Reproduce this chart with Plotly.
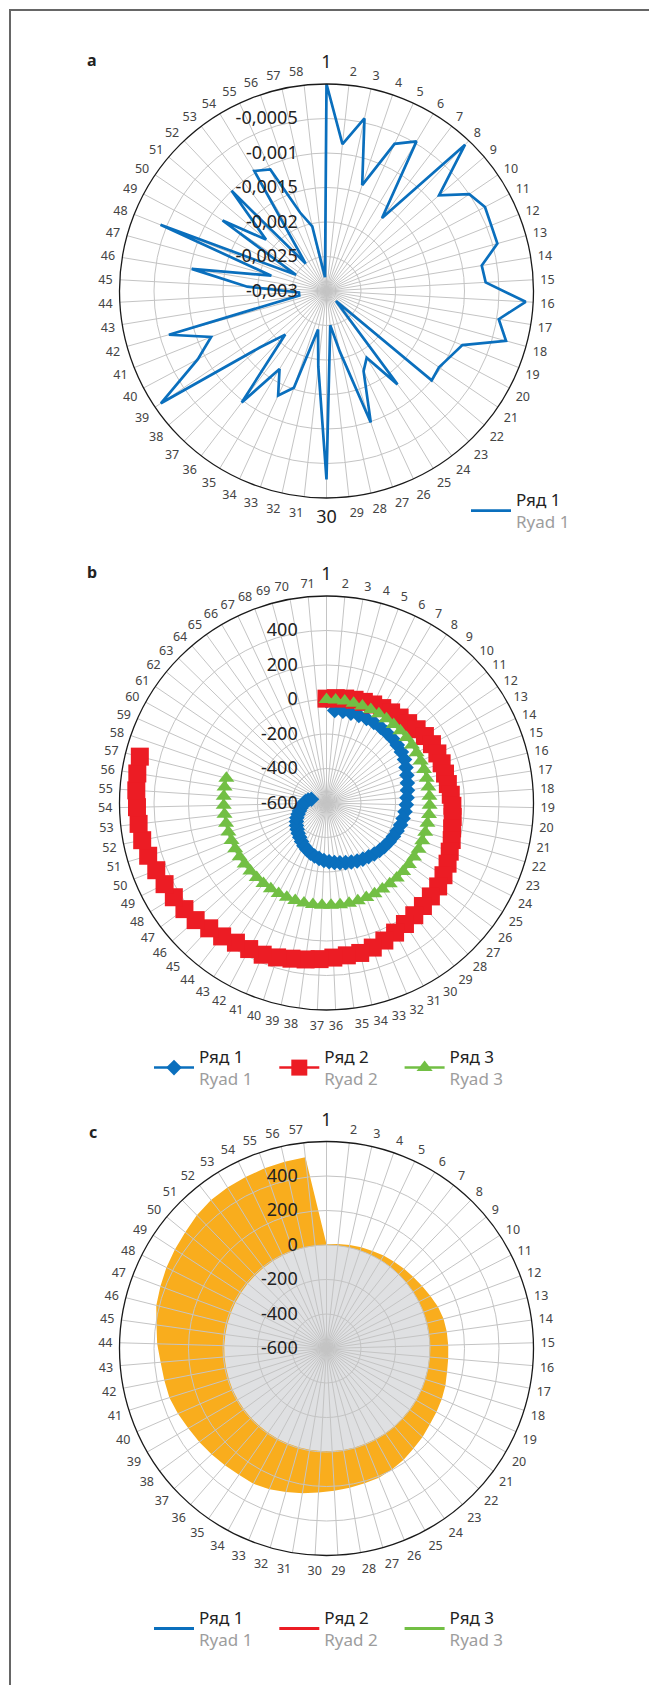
import plotly.graph_objects as go

W, H = 649, 1685
FONT = "Noto Sans"
GRID = "#c4c4c4"

# ---------------- data ----------------
# Chart a: 58 categories, one series (Ряд 1)
cats_a = [str(i) for i in range(1, 59)]
ryad1_a = [0, -0.00086, -0.00044, -0.00138, -0.00065, -0.00047, -0.00167, -0.00008, -0.00086, -0.0005,
           -0.0004, -0.00043, -0.00043, -0.00072, -0.00069, -0.00011, -0.00047, -0.0003, -0.00088, -0.00097,
           -0.00103, -0.001, -0.0028, -0.0013, -0.00187, -0.00172, -0.00099, -0.0021, -0.0025, -0.00027,
           -0.0019, -0.00243, -0.00152, -0.00133, -0.00168, -0.00097, -0.00213, -0.00174, -0.0001, -0.00089,
           -0.0012, -0.00063, -0.0026, -0.0026, -0.00185, -0.00102, -0.00217, -0.00041, -0.0025, -0.00118,
           -0.00185, -0.001, -0.0025, -0.00097, -0.00106, -0.0018, -0.00204, -0.0028]
ticks_a = [-0.003, -0.0025, -0.002, -0.0015, -0.001, -0.0005]
ticklabels_a = ["-0,003", "-0,0025", "-0,002", "-0,0015", "-0,001", "-0,0005"]

# Charts b and c: 57 values per series
cats_b = [str(i) for i in range(1, 72)]
cats_c = [str(i) for i in range(1, 58)]
ryad1 = [-8, -61, -60, -60, -59, -58, -58, -60, -63, -65,
         -70, -75, -82, -95, -107, -117, -125, -132, -137, -142,
         -147, -152, -160, -166, -173, -180, -187, -195, -204, -212,
         -220, -229, -237, -245, -252, -259, -266, -276, -285, -295,
         -307, -320, -334, -348, -360, -372, -383, -395, -408, -423,
         -436, -447, -457, -467, -477, -492, -510]
ryad2 = [5, 10, 15, 20, 25, 32, 38, 45, 52, 62,
         75, 90, 100, 104, 106, 108, 112, 122, 130, 136,
         143, 157, 168, 185, 197, 208, 212, 218, 226, 236,
         250, 265, 280, 291, 291, 297, 306, 315, 325, 340,
         354, 358, 365, 382, 395, 418, 428, 440, 450, 461,
         478, 490, 496, 499, 505, 510, 515]
ryad3 = [0, 0, 0, 0, 0, 0, 0, -1, -1, -1,
         -1, -1, -2, -2, -2, -2, -2, -2, -2, -2,
         -3, -3, -3, -3, -4, -4, -4, -4, -5, -5,
         -5, -5, -5, -5, -5, -6, -6, -6, -6, -6,
         -7, -7, -7, -7, -8, -8, -8, -8, -8, -8,
         -7, -6, -5, -4, -3, -2, -2]
ticks_bc = [-600, -400, -200, 0, 200, 400]
ticklabels_bc = ["-600", "-400", "-200", "0", "200", "400"]

series_names = ["Ряд 1", "Ряд 2", "Ряд 3"]
series_latin = ["Ryad 1", "Ryad 2", "Ryad 3"]

BLUE, RED, GREEN = "#0a6fbd", "#ec1c24", "#72bf44"
ORANGE, LIGHTGRAY = "#f9ad1d", "#dfe0e2"


def legend_label(name, latin):
    return f"{name}<br><span style='color:#9d9d9d'>{latin}</span>"


def ang_labels(cats, big_top, big_bottom=()):
    out = []
    for c in cats:
        if c in big_top:
            out.append(f"<span style='font-size:18px;fill:#222;baseline-shift:6px'>{c}</span>")
        elif c in big_bottom:
            out.append(f"<span style='font-size:18px;fill:#222;baseline-shift:-5px'>{c}</span>")
        else:
            out.append(c)
    return out


# ---------------- geometry (pixels) ----------------
R = 207
CX = 326.5
centers_y = {"a": 291, "b": 803, "c": 1348.5}


def dom(cy):
    return dict(x=[(CX - R) / W, (CX + R) / W], y=[(H - cy - R) / H, (H - cy + R) / H])


def angular(cats, big_top, big_bottom=(), show=True):
    return dict(type="category", categoryorder="array", categoryarray=cats, period=len(cats),
                direction="clockwise", rotation=90,
                showline=show, linecolor="#1a1a1a", linewidth=1.3,
                showgrid=show, gridcolor=GRID, gridwidth=1,
                ticks="outside" if show else "", ticklen=4, tickcolor="rgba(0,0,0,0)",
                showticklabels=show, tickmode="array", tickvals=cats,
                ticktext=ang_labels(cats, big_top, big_bottom),
                tickfont=dict(family=FONT, size=12.5, color="#444444"),
                layer="above traces")


def radial(rng, tv, tt, show=True):
    return dict(range=rng, tickmode="array", tickvals=tv, ticktext=tt, angle=90,
                side="counterclockwise", tickangle=90, showline=False,
                showgrid=show, gridcolor=GRID, gridwidth=1,
                showticklabels=show, ticks="outside" if show else "", ticklen=22,
                tickcolor="rgba(0,0,0,0)",
                tickfont=dict(family=FONT, size=18, color="#222222"),
                layer="above traces")


fig = go.Figure()

# ---- chart a ----
fig.add_trace(go.Scatterpolar(
    r=ryad1_a + ryad1_a[:1], theta=cats_a + cats_a[:1], mode="lines",
    line=dict(color=BLUE, width=2.7), name=legend_label(series_names[0], series_latin[0]),
    subplot="polar", legend="legend"))

# ---- chart b ----
fig.add_trace(go.Scatterpolar(r=[None] * len(cats_b), theta=cats_b, mode="lines",
                              showlegend=False, hoverinfo="skip", subplot="polar2"))
symbols = ["diamond", "square", "triangle-up"]
sizes = [12, 18, 14]
for vals, col, sym, sz, nm, lt in zip([ryad1, ryad2, ryad3], [BLUE, RED, GREEN], symbols, sizes,
                                      series_names, series_latin):
    fig.add_trace(go.Scatterpolar(
        r=vals, theta=cats_b[:len(vals)], mode="lines+markers",
        line=dict(color=col, width=2.5),
        marker=dict(symbol=sym, size=sz, color=col, line=dict(width=0)),
        name=legend_label(nm, lt), subplot="polar2", legend="legend2"))

# ---- chart c ----
fig.add_trace(go.Scatterpolar(r=ryad2, theta=cats_c, mode="lines", fill="toself",
                              fillcolor=ORANGE, line=dict(width=0, color=ORANGE),
                              showlegend=False, hoverinfo="skip", subplot="polar3"))
fig.add_trace(go.Scatterpolar(r=ryad3, theta=cats_c, mode="lines", fill="toself",
                              fillcolor=LIGHTGRAY, line=dict(width=0, color=LIGHTGRAY),
                              showlegend=False, hoverinfo="skip", subplot="polar3"))
for col, nm, lt in zip([BLUE, RED, GREEN], series_names, series_latin):
    fig.add_trace(go.Scatterpolar(r=[None], theta=[cats_c[0]], mode="lines",
                                  line=dict(color=col, width=3), name=legend_label(nm, lt),
                                  subplot="polar3", legend="legend3"))
# overlay subplot carrying the grid above the filled areas
fig.add_trace(go.Scatterpolar(r=[None] * len(cats_c), theta=cats_c, mode="lines",
                              showlegend=False, hoverinfo="skip", subplot="polar4"))

legend_common = dict(xanchor="left", yanchor="top", bgcolor="rgba(0,0,0,0)", itemwidth=40,
                     font=dict(family=FONT, size=17, color="#222"))

fig.update_layout(
    width=W, height=H, margin=dict(l=0, r=0, t=0, b=0),
    paper_bgcolor="white", font=dict(family=FONT, color="#222"),
    polar=dict(domain=dom(centers_y["a"]), bgcolor="white",
               angularaxis=angular(cats_a, {"1"}, {"30"}),
               radialaxis=radial([-0.003, 0], ticks_a, ticklabels_a)),
    polar2=dict(domain=dom(centers_y["b"]), bgcolor="white",
                angularaxis=angular(cats_b, {"1"}),
                radialaxis=radial([-600, 600], ticks_bc, ticklabels_bc)),
    polar3=dict(domain=dom(centers_y["c"]), bgcolor="white",
                angularaxis=angular(cats_c, {"1"}, show=False),
                radialaxis=radial([-600, 600], ticks_bc, ticklabels_bc, show=False)),
    polar4=dict(domain=dom(centers_y["c"]), bgcolor="rgba(0,0,0,0)",
                angularaxis=angular(cats_c, {"1"}),
                radialaxis=radial([-600, 600], ticks_bc, ticklabels_bc)),
    legend=dict(x=466 / W, y=1 - 482 / H, **legend_common),
    legend2=dict(orientation="h", x=149 / W, y=1 - 1039 / H, entrywidth=70.3, **legend_common),
    legend3=dict(orientation="h", x=149 / W, y=1 - 1600 / H, entrywidth=70.3, **legend_common),
    showlegend=True,
    shapes=[dict(type="rect", xref="paper", yref="paper", x0=10 / W, x1=1.05,
                 y0=-0.05, y1=1 - 10 / H, line=dict(color="#666666", width=2))],
    annotations=[
        dict(text="<b>a</b>", x=92 / W, y=1 - 60 / H),
        dict(text="<b>b</b>", x=92 / W, y=1 - 572 / H),
        dict(text="<b>c</b>", x=93 / W, y=1 - 1132 / H),
    ],
)
fig.update_annotations(xref="paper", yref="paper", showarrow=False, xanchor="center",
                       yanchor="middle", font=dict(family=FONT, size=16, color="#222"))

fig.write_html("out.html", config={"displayModeBar": False},
               post_script="document.body.style.margin='0';document.documentElement.style.margin='0';")
